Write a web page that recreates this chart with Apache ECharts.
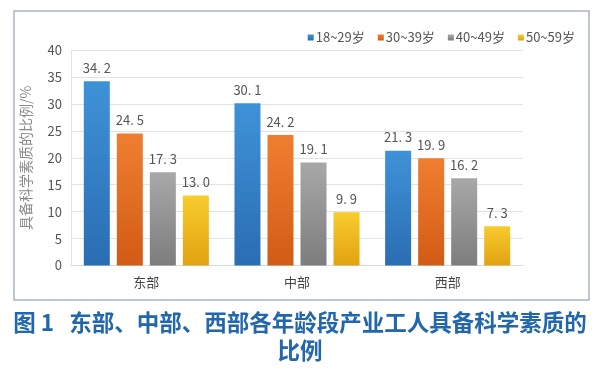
<!DOCTYPE html>
<html><head><meta charset="utf-8">
<script src="https://cdn.jsdelivr.net/npm/echarts@6/dist/echarts.min.js"></script>
<style>html,body{margin:0;padding:0;background:#fff}#c{width:600px;height:369px}</style>
</head><body><div id="c"></div>
<script>
const categories = ['东部', '中部', '西部'];
const seriesNames = ['18~29岁', '30~39岁', '40~49岁', '50~59岁'];
const s1829 = [34.2, 30.1, 21.3];
const s3039 = [24.5, 24.2, 19.9];
const s4049 = [17.3, 19.1, 16.2];
const s5059 = [13.0, 9.9, 7.3];
const yTicks = [0, 5, 10, 15, 20, 25, 30, 35, 40];
const yName = '具备科学素质的比例/%';
const titleLine1 = '图 1   东部、中部、西部各年龄段产业工人具备科学素质的';
const titleLine2 = '比例';

const colors = [
  ['#3f92d8', '#2a6db2'],
  ['#f07e30', '#d25b15'],
  ['#a8a8a8', '#7d7d7d'],
  ['#f7cc2e', '#e2a211']
];
const data = [s1829, s3039, s4049, s5059];
const chart = echarts.init(document.getElementById('c'), null, {renderer: 'canvas'});
const font = '"Noto Sans CJK SC", "Noto Sans", sans-serif';
const tFont = 'bold 22.5px "Noto Sans CJK SC", sans-serif';
chart.setOption({
  animation: false,
  backgroundColor: '#fff',
  textStyle: {fontFamily: font},
  legend: {
    data: seriesNames,
    right: 20, top: 26,
    itemWidth: 6, itemHeight: 6, itemGap: 13,
    icon: 'rect',
    textStyle: {fontSize: 13, color: '#555', padding: [0, 0, 0, -3]}
  },
  grid: {left: 71, right: 77, top: 50, bottom: 103.5},
  xAxis: {
    type: 'category', data: categories,
    axisLine: {show: true, lineStyle: {color: '#d9d9d9'}},
    axisTick: {show: false},
    axisLabel: {fontSize: 13, color: '#444', margin: 10}
  },
  yAxis: {
    type: 'value', min: yTicks[0], max: yTicks[yTicks.length - 1], interval: 5,
    name: yName, nameLocation: 'middle', nameGap: 38, nameRotate: 90,
    nameTextStyle: {fontSize: 14, color: '#8a8a8a', fontFamily: '"Noto Sans CJK SC", serif'},
    axisLine: {show: true, lineStyle: {color: '#e3e3e3'}},
    axisTick: {show: false},
    axisLabel: {fontSize: 13, color: '#555', margin: 9},
    splitLine: {lineStyle: {color: '#e3e3e3'}}
  },
  series: data.map((d, i) => ({
    name: seriesNames[i], type: 'bar', data: d,
    barWidth: 26, barGap: '27%', barCategoryGap: '16%',
    itemStyle: {color: new echarts.graphic.LinearGradient(0, 0, 0, 1, [{offset: 0, color: colors[i][0]}, {offset: 1, color: colors[i][1]}])},
    label: {
      show: true, position: 'top', distance: 7, fontSize: 13, color: '#555',
      formatter: p => p.value.toFixed(1).replace('.', '. ')
    }
  })),
  color: colors.map(c => c[1]),
  graphic: [{
    type: 'rect', silent: true, z: 100,
    shape: {x: 14, y: 11, width: 575, height: 289},
    style: {fill: null, stroke: '#a9b4c4', lineWidth: 1.5}
  }, {
    type: 'text', silent: true, x: 300, y: 322,
    style: {text: titleLine1, fill: '#2266ab', font: tFont, align: 'center', verticalAlign: 'middle'}
  }, {
    type: 'text', silent: true, x: 300, y: 350,
    style: {text: titleLine2, fill: '#2266ab', font: tFont, align: 'center', verticalAlign: 'middle'}
  }]
});
</script></body></html>
